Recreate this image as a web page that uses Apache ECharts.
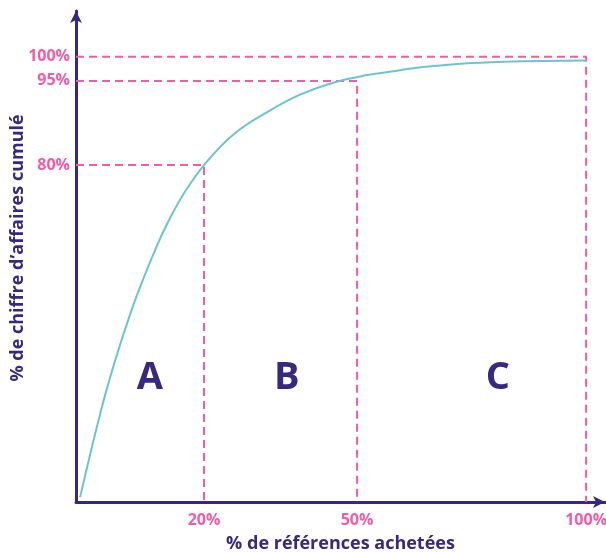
<!DOCTYPE html>
<html>
<head>
<meta charset="utf-8">
<script src="https://cdn.jsdelivr.net/npm/echarts@6/dist/echarts.min.js"></script>
<style>
  html, body { margin: 0; padding: 0; background: #fff; }
  #chart { width: 606px; height: 552px; }
</style>
</head>
<body>
<div id="chart"></div>
<script>
// Schematic ABC (Pareto) curve. The picture isn't drawn to scale, so the
// axes run in "diagram units" (0..100 = origin..100% mark) and the tick
// labels sit where the picture puts them.
const xTickValues = [25.1, 55.1, 100];
const xTickLabels = ['20%', '50%', '100%'];
const yTickValues = [75.7, 94.6, 100];
const yTickLabels = ['80%', '95%', '100%'];

// cumulative curve (diagram units)
const curveX = [0.8, 2.5, 4.1, 5.8, 7.7, 9.8, 12.1, 14.7, 17.6, 21.2, 25.1, 30.8, 37.5, 43.9, 50.4, 57.1, 63.5, 68.0, 74.7, 81.2, 87.6, 100];
const curveY = [1.1, 9.4, 16.9, 24.4, 31.9, 39.4, 46.9, 54.4, 61.9, 69.4, 75.7, 82.5, 87.6, 91.5, 94.2, 95.9, 97.0, 97.7, 98.4, 98.8, 99.0, 99.2];

// class zones
const zoneNames = ['A', 'B', 'C'];
const zoneX = [14.5, 41.3, 82.7];
const zoneY = [27.9, 27.9, 27.9];

const xTitle = '% de références achetées';
const yTitle = '% de chiffre d’affaires cumulé';

const PURPLE = '#36297f';
const PINK = '#f55aa6';
const TEAL = '#6cc4d3';
const FONT = '"Open Sans", Lato, sans-serif';

const chart = echarts.init(document.getElementById('chart'), null, { renderer: 'canvas' });

// dashed guide lines: from the y axis to the curve point, then down to the x axis
const guides = xTickValues.map((xv, i) => ({
  name: 'guide' + i, type: 'line', symbol: 'none', silent: true, z: 1,
  lineStyle: { color: PINK, width: 2, type: [8, 5] },
  data: [[0, yTickValues[i]], [xv, yTickValues[i]], [xv, 0]],
}));

chart.setOption({
  animation: false,
  grid: { left: 76, right: 1, top: 11, bottom: 50, containLabel: false, outerBoundsMode: 'none' },
  // y title placed by hand: the axis name sat too low / too far left
  graphic: [{
    type: 'text', x: 18, y: 248, rotation: Math.PI / 2,
    style: {
      text: yTitle, fill: PURPLE, font: 'bold 18px ' + FONT,
      align: 'center', verticalAlign: 'middle',
    },
  }],
  xAxis: {
    type: 'value', min: 0, max: 103.7,
    name: xTitle, nameLocation: 'middle', nameGap: 33,
    nameTextStyle: { color: PURPLE, fontFamily: FONT, fontWeight: 'bold', fontSize: 18 },
    axisLine: { show: true, symbol: ['none', 'arrow'], symbolSize: [9, 12], lineStyle: { color: PURPLE, width: 3 } },
    axisTick: { show: false },
    splitLine: { show: false },
    axisLabel: {
      customValues: xTickValues, margin: 10, hideOverlap: false,
      color: PINK, fontFamily: FONT, fontWeight: 'bold', fontSize: 16,
      formatter: v => xTickLabels[xTickValues.indexOf(v)] || '',
    },
  },
  yAxis: {
    type: 'value', min: 0, max: 110.3,
    axisLine: { show: true, symbol: ['none', 'arrow'], symbolSize: [9, 12], lineStyle: { color: PURPLE, width: 3 } },
    axisTick: { show: false },
    splitLine: { show: false },
    axisLabel: {
      customValues: yTickValues, margin: 6, hideOverlap: false,
      color: PINK, fontFamily: FONT, fontWeight: 'bold', fontSize: 16,
      formatter: v => yTickLabels[yTickValues.indexOf(v)] || '',
    },
  },
  series: guides.concat([
    {
      name: 'curve', type: 'line', smooth: 0.4, symbol: 'none', z: 3,
      lineStyle: { color: TEAL, width: 2 },
      data: curveX.map((x, i) => [x, curveY[i]]),
    },
    {
      name: 'zones', type: 'scatter', symbolSize: 0, silent: true, z: 4,
      itemStyle: { opacity: 1 },
      data: zoneX.map((x, i) => ({ value: [x, zoneY[i]], name: zoneNames[i] })),
      label: {
        show: true, position: 'inside', formatter: p => p.name, opacity: 1,
        color: PURPLE, fontFamily: FONT, fontWeight: 'bold', fontSize: 38,
      },
    },
  ]),
});
</script>
</body>
</html>
